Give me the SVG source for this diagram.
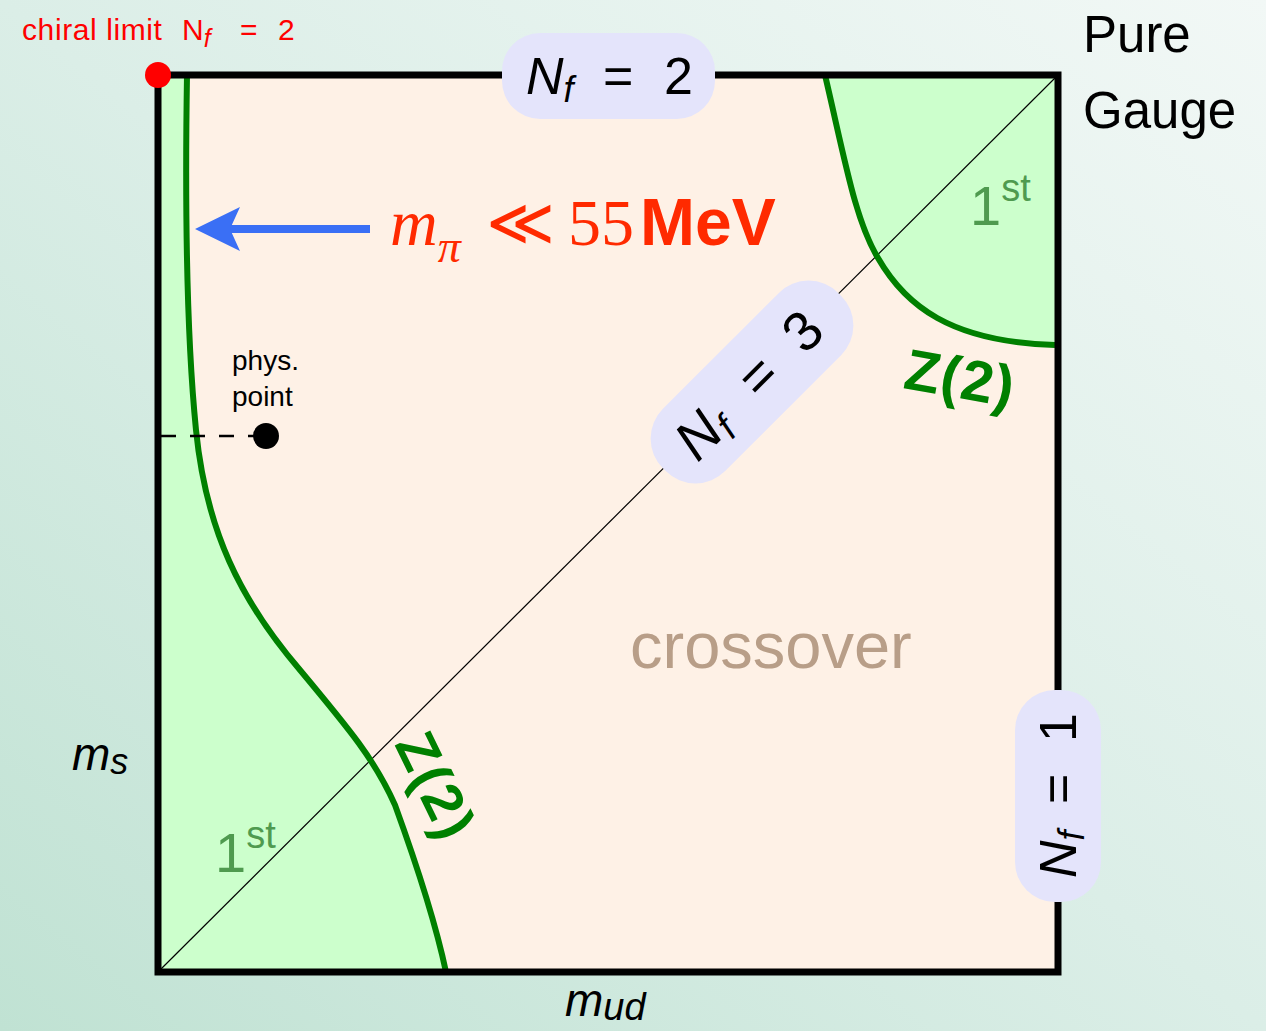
<svg xmlns="http://www.w3.org/2000/svg" width="1266" height="1031" viewBox="0 0 1266 1031">
<defs>
<linearGradient id="bg" x1="0" y1="1" x2="1" y2="0">
<stop offset="0" stop-color="#c0e2d3"/>
<stop offset="0.5" stop-color="#dbeee7"/>
<stop offset="1" stop-color="#f2f8f6"/>
</linearGradient>
<style>
.sans{font-family:"Liberation Sans","DejaVu Sans",sans-serif}
.serif{font-family:"Liberation Serif","DejaVu Serif",serif}
.it{font-style:italic}
.pill{fill:#e4e4fb}
.crit{fill:none;stroke:#008000;stroke-width:6}
.first{fill:#ccffcc}
.lbl1{fill:#4f9a4f}
.z2{fill:#008000}
</style>
</defs>
<rect width="1266" height="1031" fill="url(#bg)"/>
<g id="plot-area">
<rect x="158" y="75" width="900" height="897" fill="#fef1e6"/>
<path class="first" d="M158,75 L187,75 C185,200 186,330 196,430 C206,530 240,600 300,670 C350,730 375,760 395,805 C415,860 435,920 446,972 L158,972 Z"/>
<path class="first" d="M825,75 C845,160 855,220 878,258 C905,305 950,342 1058,345 L1058,75 Z"/>
</g>
<g id="connectors">
<line x1="158" y1="972" x2="1058" y2="75" stroke="#000" stroke-width="1.2"/>
<path class="crit" d="M187,75 C185,200 186,330 196,430 C206,530 240,600 300,670 C350,730 375,760 395,805 C415,860 435,920 446,972"/>
<path class="crit" d="M825,75 C845,160 855,220 878,258 C905,305 950,342 1055,345"/>
<line x1="161" y1="436" x2="254" y2="436" stroke="#000" stroke-width="2.5" stroke-dasharray="15,14"/>
<line x1="370" y1="229" x2="228" y2="229" stroke="#3a6ff5" stroke-width="8"/>
<path d="M195,229 L240,207 L230,229 L240,251 Z" fill="#3a6ff5"/>
</g>
<rect x="158" y="75" width="900" height="897" fill="none" stroke="#000" stroke-width="7"/>
<g id="chiral-limit">
<circle cx="158" cy="75" r="13" fill="#ff0000"/>
<text y="40" class="sans" font-size="30" fill="#ff0000"><tspan x="22" letter-spacing="0.6">chiral limit</tspan><tspan x="182">N</tspan><tspan class="it" font-size="25" dy="7">f</tspan><tspan x="240" dy="-7">=</tspan><tspan x="278">2</tspan></text>
</g>
<g id="nf2">
<rect class="pill" x="502" y="33" width="213" height="86" rx="38"/>
<text y="94" class="sans" font-size="52" fill="#000"><tspan x="526" class="it">N</tspan><tspan class="it" font-size="36" dy="8">f</tspan><tspan x="603" dy="-8">=</tspan><tspan x="664">2</tspan></text>
</g>
<g id="pure-gauge">
<text x="1083" y="52" class="sans" font-size="51" fill="#000">Pure</text>
<text x="1083" y="128" class="sans" font-size="51" fill="#000">Gauge</text>
</g>
<g id="mpi-label">
<text y="245" font-size="66" fill="#ff2a00"><tspan x="390" class="serif it">m</tspan><tspan class="serif it" font-size="46" dy="17">π</tspan><tspan x="486" class="serif" dy="-17">≪</tspan><tspan x="568" class="serif">55</tspan><tspan x="640" class="sans" font-weight="bold">MeV</tspan></text>
</g>
<g id="phys-point">
<text x="232" y="370" class="sans" font-size="28" fill="#000">phys.</text>
<text x="232" y="406" class="sans" font-size="28" fill="#000">point</text>
<circle cx="266" cy="436" r="13" fill="#000"/>
</g>
<g id="first-top">
<text x="970" y="225" class="sans lbl1" font-size="56">1<tspan font-size="38" dy="-24">st</tspan></text>
</g>
<g id="first-bottom">
<text x="215" y="872" class="sans lbl1" font-size="56">1<tspan font-size="38" dy="-24">st</tspan></text>
</g>
<g id="z2-top">
<text transform="translate(902,388) rotate(10)" class="sans z2" font-size="58" font-weight="bold" textLength="110">Z(2)</text>
</g>
<g id="z2-bottom">
<text transform="translate(394,744) rotate(64)" class="sans z2" font-size="56" font-weight="bold" textLength="110">Z(2)</text>
</g>
<g id="nf3">
<g transform="translate(752,382) rotate(-45)">
<rect class="pill" x="-124" y="-44" width="248" height="88" rx="42"/>
<text y="19" class="sans" font-size="56" fill="#000"><tspan x="-96" class="it">N</tspan><tspan class="it" font-size="38" dy="8">f</tspan><tspan x="-8" dy="-8">=</tspan><tspan x="56">3</tspan></text>
</g>
</g>
<g id="crossover">
<text x="630" y="668" class="sans" font-size="65" fill="#b89e88">crossover</text>
</g>
<g id="nf1">
<rect class="pill" x="1015" y="690" width="86" height="212" rx="40"/>
<g transform="translate(1076,796) rotate(-90)">
<text y="0" class="sans" font-size="52" fill="#000"><tspan x="-82" class="it">N</tspan><tspan class="it" font-size="36" dy="8">f</tspan><tspan x="-8" dy="-8">=</tspan><tspan x="54">1</tspan></text>
</g>
</g>
<g id="axis-labels">
<text x="72" y="770" class="sans it" font-size="46" fill="#000">m<tspan font-size="36" dy="4">s</tspan></text>
<text x="565" y="1016" class="sans it" font-size="46" fill="#000">m<tspan font-size="38" dy="4">ud</tspan></text>
</g>
</svg>
